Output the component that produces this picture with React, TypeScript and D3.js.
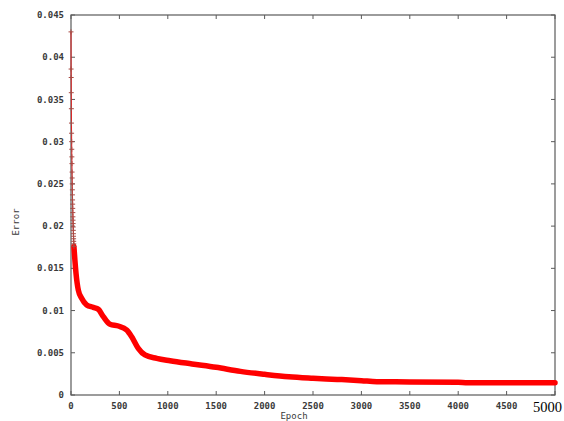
import React, { useEffect, useRef } from 'react';
import * as d3 from 'd3';

// markers drawn for the first epochs (one per epoch, starting at 0)
const markerError = [0.0430, 0.0386, 0.0376, 0.0358, 0.0339, 0.0322, 0.0310, 0.0300, 0.0291, 0.0282,
  0.0274, 0.0264, 0.0257, 0.0250, 0.0243, 0.0237, 0.0231, 0.0226, 0.0221, 0.0216,
  0.0211, 0.0207, 0.0203, 0.0199, 0.0195, 0.0191, 0.0188, 0.0185, 0.0182, 0.0179, 0.0176];

// the dense part of the curve
const curveEpochs = [30, 40, 52, 76, 110, 162, 230, 282, 334, 403, 489, 575, 627, 695, 764, 885, 1023,
  1250, 1500, 1750, 2000, 2250, 2500, 2750, 3000, 3160, 3500, 4000, 4100, 4500, 5000];
const curveError = [0.0176, 0.0160, 0.0144, 0.0124, 0.01145, 0.01066, 0.01038, 0.01015, 0.00927, 0.00837,
  0.00817, 0.0077, 0.0069, 0.00553, 0.00474, 0.00434, 0.00406, 0.00368, 0.00328, 0.0028,
  0.00245, 0.00215, 0.00198, 0.00185, 0.0017, 0.00158, 0.00155, 0.0015, 0.00146, 0.00146, 0.00146];

const xTicks = [0, 500, 1000, 1500, 2000, 2500, 3000, 3500, 4000, 4500, 5000];
const yTicks = [0, 0.005, 0.01, 0.015, 0.02, 0.025, 0.03, 0.035, 0.04, 0.045];
const yTickLabels = ['0', '0.005', '0.01', '0.015', '0.02', '0.025', '0.03', '0.035', '0.04', '0.045'];

const App = () => {
  const ref = useRef<SVGSVGElement>(null);

  useEffect(() => {
    const width = 564;
    const height = 421;
    const margin = { top: 15, right: 9, bottom: 26, left: 71 };

    const svg = d3.select(ref.current);
    svg.selectAll('*').remove();

    const x = d3.scaleLinear().domain([0, 5000]).range([margin.left, width - margin.right]);
    const y = d3.scaleLinear().domain([0, 0.045]).range([height - margin.bottom, margin.top]);

    const mono = 'DejaVu Sans Mono, monospace';
    const frame = '#5a5a5a';
    const txt = '#3a3a3a';

    // frame
    svg.append('rect')
      .attr('x', x(0)).attr('y', y(0.045))
      .attr('width', x(5000) - x(0)).attr('height', y(0) - y(0.045))
      .attr('fill', 'none').attr('stroke', frame).attr('stroke-width', 1.2);

    const tick = 4;
    // x ticks, bottom and top, pointing inward
    xTicks.forEach(t => {
      svg.append('line').attr('x1', x(t)).attr('x2', x(t))
        .attr('y1', y(0)).attr('y2', y(0) - tick).attr('stroke', frame);
      svg.append('line').attr('x1', x(t)).attr('x2', x(t))
        .attr('y1', y(0.045)).attr('y2', y(0.045) + tick).attr('stroke', frame);
      if (t < 5000) {
        svg.append('text').attr('x', x(t)).attr('y', 409)
          .attr('text-anchor', 'middle').attr('font-family', mono).attr('font-size', 9)
          .attr('font-weight', 'bold').attr('fill', txt).text(t);
      }
    });
    // the last x label sits in a serif face
    svg.append('text').attr('x', 533).attr('y', 412)
      .attr('font-family', 'Liberation Serif, serif').attr('font-size', 14.5)
      .attr('fill', '#000').text('5000');

    yTicks.forEach((t, i) => {
      svg.append('line').attr('x1', x(0)).attr('x2', x(0) + tick)
        .attr('y1', y(t)).attr('y2', y(t)).attr('stroke', frame);
      svg.append('line').attr('x1', x(5000)).attr('x2', x(5000) - tick)
        .attr('y1', y(t)).attr('y2', y(t)).attr('stroke', frame);
      svg.append('text').attr('x', 64).attr('y', y(t)).attr('dy', '0.35em')
        .attr('text-anchor', 'end').attr('font-family', mono).attr('font-size', 9)
        .attr('font-weight', 'bold').attr('fill', txt).text(yTickLabels[i]);
    });

    // axis titles
    svg.append('text').attr('x', 294).attr('y', 419)
      .attr('text-anchor', 'middle').attr('font-family', mono).attr('font-size', 9)
      .attr('fill', txt).text('Epoch');
    svg.append('text').attr('transform', 'translate(19,222) rotate(-90)')
      .attr('text-anchor', 'middle').attr('font-family', mono).attr('font-size', 9)
      .attr('fill', txt).text('Error');

    // thin line through the early markers
    const early = markerError.map((e, i) => [i, e] as [number, number]);
    svg.append('path').datum(early)
      .attr('d', d3.line<[number, number]>().x(d => x(d[0])).y(d => y(d[1])))
      .attr('fill', 'none').attr('stroke', '#e02020').attr('stroke-width', 1);

    // thick curve
    const pts = curveEpochs.map((e, i) => [e, curveError[i]] as [number, number]);
    svg.append('path').datum(pts)
      .attr('d', d3.line<[number, number]>().x(d => x(d[0])).y(d => y(d[1])).curve(d3.curveMonotoneX))
      .attr('fill', 'none').attr('stroke', '#ff0000').attr('stroke-width', 5.5)
      .attr('stroke-linecap', 'round').attr('stroke-linejoin', 'round');

    // + markers
    const m = 2.5;
    svg.append('g').selectAll('path').data(early).enter().append('path')
      .attr('d', d => {
        const cx = x(d[0]);
        const cy = y(d[1]);
        return `M${cx - m},${cy}H${cx + m}M${cx},${cy - m}V${cy + m}`;
      })
      .attr('stroke', '#a84a44').attr('stroke-width', 1).attr('fill', 'none');
  }, []);

  return (
    <svg ref={ref} width={564} height={421}
      style={{ position: 'absolute', left: 0, top: 0, background: '#fff' }} />
  );
};

export default App;
